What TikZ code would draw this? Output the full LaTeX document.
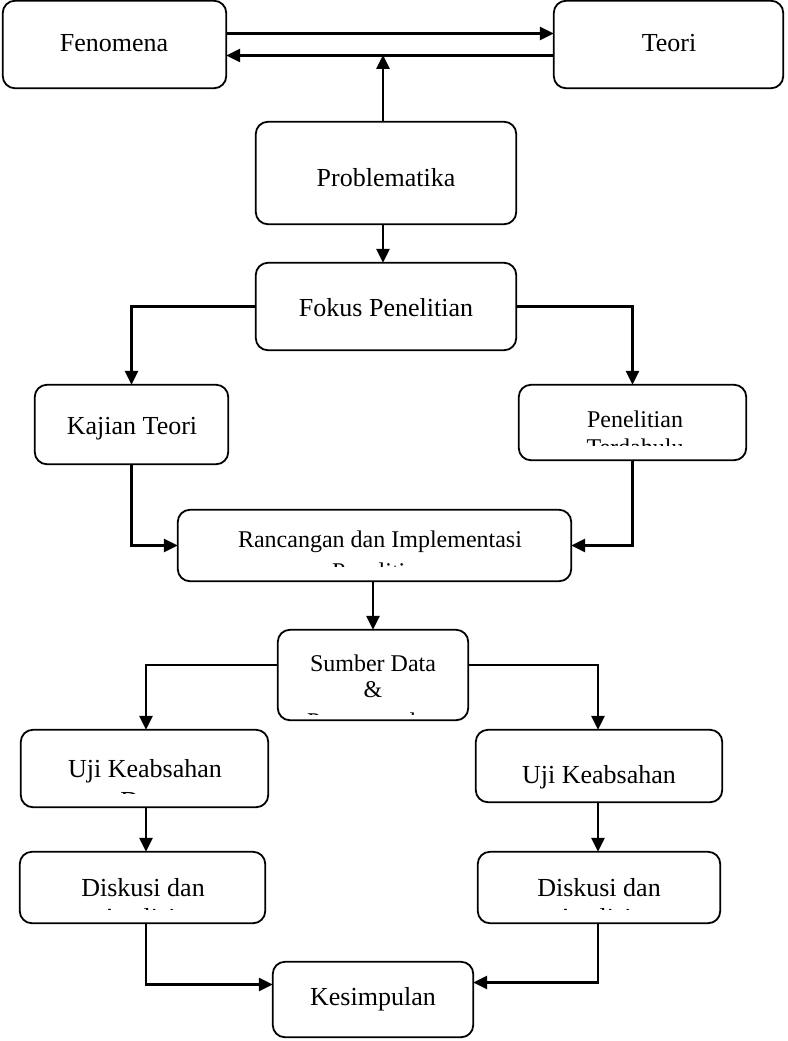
\documentclass[tikz,border=0pt]{standalone}
\usepackage{fontspec}
\setmainfont{Liberation Serif}
\usetikzlibrary{arrows.meta,calc}
\begin{document}
\begin{tikzpicture}[x=1pt,y=-1pt,
  box/.style={draw,line width=1.8pt,rounded corners=12pt},
  arr/.style={line width=2.6pt,-{Triangle[length=14pt,width=13pt]}},
  txt/.style={anchor=base,inner sep=0pt,font=\fontsize{26}{30}\selectfont},
  stxt/.style={anchor=base,inner sep=0pt,font=\fontsize{24}{28}\selectfont}]
\useasboundingbox (0,0) rectangle (787,1041);
% boxes
\node[inner sep=0pt,minimum width=223pt,minimum height=87pt] (fen) at (114.5,44.5) {};
\node[inner sep=0pt,minimum width=229pt,minimum height=87pt] (teo) at (668.5,44.5) {};
\node[inner sep=0pt,minimum width=260pt,minimum height=102pt] (prob) at (386,173) {};
\node[inner sep=0pt,minimum width=260pt,minimum height=87pt] (fok) at (386,306.5) {};
\node[inner sep=0pt,minimum width=193pt,minimum height=79pt] (kaj) at (131.5,424.5) {};
\node[inner sep=0pt,minimum width=227pt,minimum height=75pt] (pen) at (632.5,422.5) {};
\node[inner sep=0pt,minimum width=393pt,minimum height=71pt] (ran) at (374.5,545.5) {};
\node[inner sep=0pt,minimum width=190pt,minimum height=90pt] (sum) at (373,675) {};
\node[inner sep=0pt,minimum width=247pt,minimum height=77pt] (ujia) at (144.5,768.5) {};
\node[inner sep=0pt,minimum width=246pt,minimum height=72pt] (ujib) at (599,766) {};
\node[inner sep=0pt,minimum width=245pt,minimum height=71pt] (diska) at (142.5,887.5) {};
\node[inner sep=0pt,minimum width=242pt,minimum height=71pt] (diskb) at (599,887.5) {};
\node[inner sep=0pt,minimum width=200pt,minimum height=75pt] (kes) at (373,999.5) {};
\foreach \n in {fen,teo,prob,fok,kaj,pen,ran,sum,ujia,ujib,diska,diskb,kes}
  \draw[box] (\n.north west) rectangle (\n.south east);
% texts
\node[txt] (tfen) at (114,52) {Fenomena};
\node[txt] (tteo) at (669,52) {Teori};
\node[txt] (tprob) at (386,186) {Problematika};
\node[txt] (tfok) at (386,316) {Fokus Penelitian};
\node[txt] (tkaj) at (132,434) {Kajian Teori};
\node[stxt] (tpen) at (635,427) {Penelitian};
\begin{scope}\clip (520,430) rectangle (745,445);
\node[stxt] (tpen2) at (635,455) {Terdahulu};\end{scope}
\node[stxt] (tran) at (380,547) {Rancangan dan Implementasi};
\begin{scope}\clip (180,550) rectangle (570,566);
\node[stxt] (tran2) at (380,579) {Penelitian};\end{scope}
\node[stxt] (tsum) at (373,671) {Sumber Data};
\node[stxt] (tsum2) at (373,697) {\&};
\begin{scope}\clip (280,700) rectangle (466,714);
\node[stxt] (tsum3) at (373,729) {Pengumpulan};\end{scope}
\node[txt] (tujia) at (145,777) {Uji Keabsahan};
\begin{scope}\clip (22,780) rectangle (266,793);
\node[txt] (tujia2) at (145,809) {Data};\end{scope}
\node[txt] (tujib) at (599,783) {Uji Keabsahan};
\node[txt] (tdiska) at (143,896) {Diskusi dan};
\begin{scope}\clip (22,900) rectangle (263,909.6);
\node[txt] (tdiska2) at (143,926.4) {Analisis};\end{scope}
\node[txt] (tdiskb) at (599,896) {Diskusi dan};
\begin{scope}\clip (480,900) rectangle (718,909.6);
\node[txt] (tdiskb2) at (599,926.4) {Analisis};\end{scope}
\node[txt] (tkes) at (373,1005) {Kesimpulan};
% connectors
\draw[arr] ([yshift=11pt]fen.east) -- ([yshift=11pt]teo.west);
\draw[arr] ([yshift=-11pt]teo.west) -- ([yshift=-11pt]fen.east);
\coordinate (pm) at (383,55);
\draw[arr] ([xshift=-3pt]prob.north) -- (pm);
\draw[arr] ([xshift=-3pt]prob.south) -- ([xshift=-3pt]fok.north);
\draw[arr] (fok.west) -| (kaj.north);
\draw[arr] (fok.east) -| (pen.north);
\draw[arr] (kaj.south) |- (ran.west);
\draw[arr] (pen.south) |- (ran.east);
\draw[arr] ([xshift=-1.5pt]ran.south) -- (sum.north);
\draw[arr] ([yshift=10pt]sum.west) -| ([xshift=1.5pt]ujia.north);
\draw[arr] ([yshift=10pt]sum.east) -| ([xshift=-1pt]ujib.north);
\draw[arr] ([xshift=1.5pt]ujia.south) -- ([xshift=3.5pt]diska.north);
\draw[arr] ([xshift=-1pt]ujib.south) -- ([xshift=-1pt]diskb.north);
\draw[arr] ([xshift=3.5pt]diska.south) |- ([yshift=15pt]kes.west);
\draw[arr] ([xshift=-1pt]diskb.south) |- ([yshift=17pt]kes.east);
\end{tikzpicture}
\end{document}
